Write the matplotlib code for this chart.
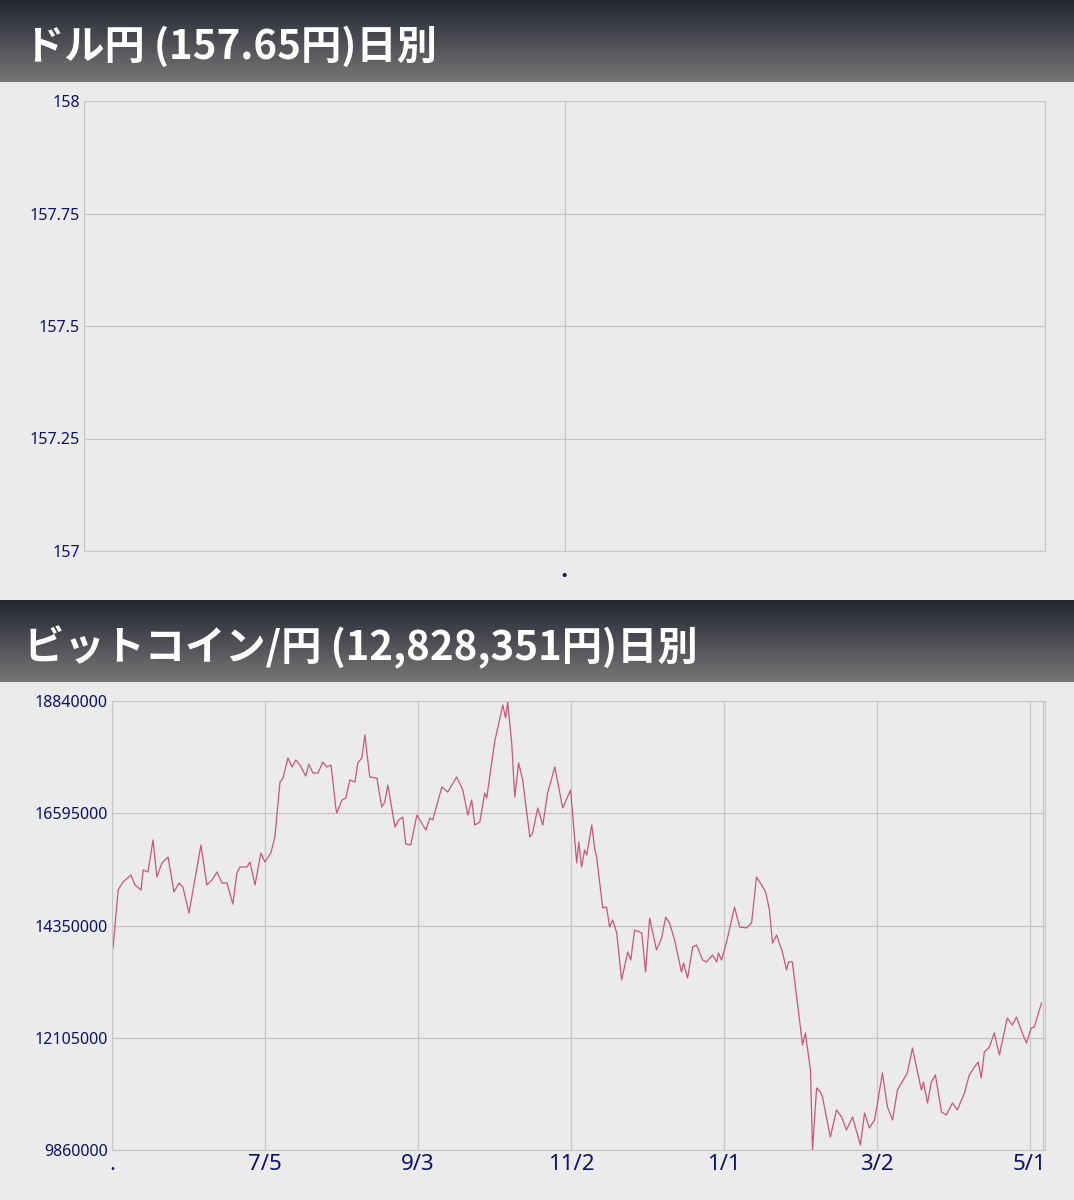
import numpy as np
import matplotlib.pyplot as plt

plt.rcParams['font.family'] = ['Noto Sans CJK JP', 'DejaVu Sans']

# ドル円: no data drawn in the visible range
usd_title = "ドル円 (157.65円)日別"
usd_ticks = [157, 157.25, 157.5, 157.75, 158]
usd_ticklabels = ["157", "157.25", "157.5", "157.75", "158"]

# ビットコイン/円 (days since start, price in 万円)
btc_title = "ビットコイン/円 (12,828,351円)日別"
btc_day = [0.4, 2.4, 4.3, 7.4, 9.0, 11.4, 12.2, 14.1, 16.1, 17.6, 19.6, 22.0, 24.3, 26.3, 27.8,
           30.2, 32.5, 34.9, 37.2, 39.2, 41.2, 43.1, 45.1, 47.4, 49.0, 50.2, 52.9, 54.1, 56.1,
           58.4, 60.0, 62.3, 63.9, 65.9, 67.1, 69.0, 70.6, 72.1, 73.7, 76.0, 77.2, 78.8, 80.8,
           82.7, 84.3, 85.9, 86.6, 87.8, 88.2, 90.2, 91.7, 93.3, 95.3, 96.4, 98.0, 99.2, 101.1,
           103.9, 105.8, 107.0, 108.2, 111.0, 112.5, 114.1, 115.2, 117.2, 119.6, 123.1, 124.7,
           125.8, 129.4, 131.7, 135.2, 137.6, 139.6, 141.1, 142.3, 144.3, 146.2, 147.0, 150.1,
           153.3, 154.4, 155.2, 156.8, 158.0, 159.5, 161.1, 163.9, 165.0, 167.0, 169.0, 170.9,
           173.7, 176.8, 179.9, 182.3, 183.1, 184.2, 185.4, 186.2, 188.2, 189.3, 190.1, 192.5,
           194.0, 195.2, 196.4, 198.0, 199.9, 202.3, 203.5, 205.0, 207.8, 209.3, 210.9, 213.6,
           215.6, 217.2, 218.7, 220.7, 223.4, 224.2, 225.8, 227.8, 229.3, 231.7, 233.2, 235.6,
           237.2, 237.9, 239.1, 241.1, 244.2, 246.2, 248.9, 250.9, 252.8, 254.8, 256.4, 257.9,
           259.1, 260.7, 263.0, 264.6, 265.4, 266.9, 268.5, 270.9, 272.0, 274.0, 274.8, 276.4,
           277.9, 278.7, 281.8, 284.2, 286.2, 288.1, 290.5, 293.6, 295.2, 297.1, 299.1, 300.3,
           302.2, 304.2, 306.2, 308.1, 312.0, 314.0, 317.5, 318.3, 319.9, 321.4, 323.0, 325.4,
           327.3, 329.7, 331.6, 334.4, 336.3, 338.3, 339.8, 341.0, 342.2, 344.2, 346.1, 348.1,
           351.2, 353.2, 354.8, 357.1, 358.7, 360.6, 361.8, 364.6]
btc_man = [1390, 1506, 1522, 1536, 1516, 1506, 1546, 1542, 1606, 1532, 1560, 1572, 1502, 1520, 1512,
           1460, 1526, 1596, 1516, 1526, 1542, 1520, 1520, 1478, 1540, 1552, 1552, 1562, 1516,
           1580, 1562, 1580, 1612, 1722, 1730, 1770, 1752, 1766, 1756, 1734, 1758, 1740, 1740,
           1762, 1752, 1756, 1726, 1670, 1660, 1686, 1690, 1726, 1722, 1760, 1770, 1816, 1732,
           1730, 1672, 1682, 1716, 1632, 1646, 1652, 1598, 1596, 1656, 1626, 1650,
           1646, 1712, 1702, 1732, 1706, 1656, 1686, 1636, 1642, 1700, 1690, 1802,
           1876, 1850, 1882, 1800, 1692, 1760, 1726, 1612, 1620, 1670, 1636, 1700,
           1752, 1670, 1706, 1560, 1602, 1552, 1586, 1576, 1636, 1590, 1572, 1470,
           1472, 1432, 1446, 1420, 1326, 1382, 1366, 1426, 1420, 1342, 1450, 1386,
           1410, 1452, 1440, 1406, 1342, 1360, 1330, 1392, 1396, 1366, 1362, 1376,
           1362, 1380, 1366, 1402, 1472, 1432, 1430, 1440, 1532, 1516, 1502, 1466,
           1400, 1416, 1382, 1346, 1362, 1362, 1296, 1196, 1220, 1146, 986, 1110,
           1102, 1092, 1012, 1066, 1052, 1026, 1052, 996, 1060, 1030, 1046, 1080,
           1140, 1072, 1046, 1106, 1140, 1190, 1106, 1122, 1080, 1122, 1136, 1062,
           1056, 1080, 1066, 1100, 1136, 1152, 1162, 1130, 1182, 1192, 1220, 1176,
           1250, 1236, 1252, 1220, 1200, 1230, 1232, 1280]
btc_ticks = [9860000, 12105000, 14350000, 16595000, 18840000]
date_pos = [0, 60, 120, 180, 240, 300, 360]
date_labels = [".", "7/5", "9/3", "11/2", "1/1", "3/2", "5/1"]

W, H = 1074, 1200
BG = "#ebebeb"
GRID = "#c6c6c6"
NAVY = "#10106a"
TICKFONT = "Noto Sans"
fig = plt.figure(figsize=(W / 100, H / 100), dpi=100, facecolor=BG)


def title_bar(y0, y1, text):
    ax = fig.add_axes([0, 1 - y1 / H, 1, (y1 - y0) / H])
    grad = np.linspace(0, 1, 100).reshape(-1, 1)
    top = np.array([0x22, 0x27, 0x33]) / 255
    bot = np.array([0x78, 0x75, 0x75]) / 255
    img = top + (bot - top) * grad[:, :, None]
    ax.imshow(img, aspect="auto", extent=[0, 1, 0, 1])
    ax.set_axis_off()
    ax.text(0.022, 0.42, text, color="white", fontsize=29, fontweight="bold",
            va="center", ha="left", transform=ax.transAxes)


def panel(x0, x1, y0, y1):
    ax = fig.add_axes([x0 / W, 1 - y1 / H, (x1 - x0) / W, (y1 - y0) / H])
    ax.set_facecolor(BG)
    for s in ax.spines.values():
        s.set_color(GRID)
    ax.grid(True, color=GRID, lw=0.9)
    ax.tick_params(length=0, colors=NAVY, pad=3)
    return ax


title_bar(0, 82, usd_title)
ax1 = panel(84, 1045, 101, 551)
ax1.set_ylim(157, 158)
ax1.set_yticks(usd_ticks)
ax1.set_yticklabels(usd_ticklabels, family=TICKFONT, fontsize=11.5)
ax1.set_xlim(0, 2)
ax1.set_xticks([1])
ax1.set_xticklabels(["."], fontsize=16, color=NAVY, fontweight="bold")
ax1.tick_params(axis="x", pad=6)

title_bar(600, 682, btc_title)
ax2 = panel(112, 1045, 701, 1150)
ax2.plot(btc_day, np.array(btc_man) * 10000, color="#c8577c", lw=0.9)
ax2.set_ylim(btc_ticks[0], btc_ticks[-1])
ax2.set_yticks(btc_ticks)
ax2.set_yticklabels([str(v) for v in btc_ticks], family=TICKFONT, fontsize=11.5)
ax2.set_xlim(0, 366)
ax2.set_xticks(date_pos)
ax2.set_xticklabels(date_labels, family=TICKFONT, fontsize=16)
ax2.axvline(365.2, color=GRID, lw=0.9)

fig.savefig("out.png", dpi=100, facecolor=BG)
